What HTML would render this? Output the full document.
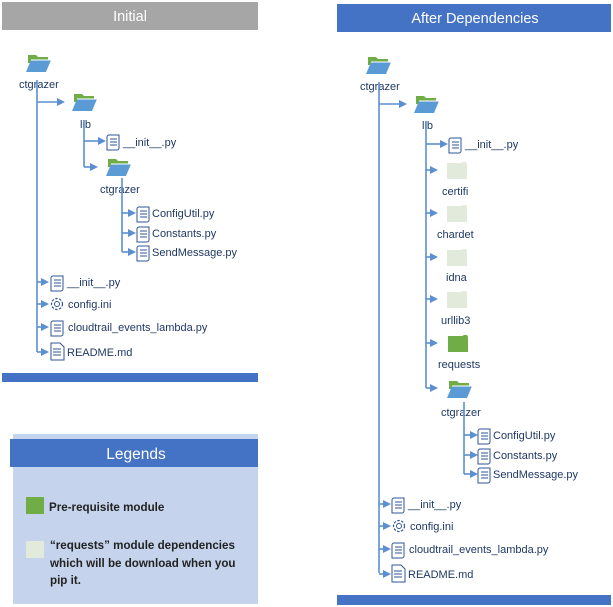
<!DOCTYPE html>
<html><head><meta charset="utf-8"><style>
html,body{margin:0;padding:0;background:#fff;width:613px;height:607px;overflow:hidden}
svg{display:block;font-family:"Liberation Sans",sans-serif}
.t{font-size:11px;fill:#1f3864}
.l{stroke:#5b8fd0;stroke-width:1.6;fill:none}
</style></head><body>
<svg width="613" height="607" viewBox="0 0 613 607">
<defs>
<g id="fo"><path d="M2 0h8l2 2h10v6H2z" fill="#70ad47"/><path d="M5 5h20l-5 12H0z" fill="#5b9bd5"/><path d="M5 5h20" stroke="#fff" stroke-width="1"/></g>
<g id="fc"><path d="M0 1h14l2-1h3l1 2v15H0z" fill="#e2ebdb"/></g>
<g id="fg"><path d="M0 1h14l2-1h3l1 2v15H0z" fill="#70ad47"/></g>
<g id="sc"><path d="M3 1h10v13a2 2 0 0 1-2 2H1V3a2 2 0 0 1 2-2z" fill="#fff" stroke="#2f5597" stroke-width="1"/><path d="M4 5h7M4 8h7M4 11h7" stroke="#2f5597" stroke-width="1"/></g>
<g id="dc"><path d="M1 0h9l4 4v13H1z" fill="#fff" stroke="#2f5597" stroke-width="1"/><path d="M3 6h8M3 9h8M3 12h8" stroke="#2f5597"/></g>
<g id="gr"><circle cx="8" cy="8" r="5.5" fill="none" stroke="#2f5597" stroke-width="1.2" stroke-dasharray="2.5 1.5"/><circle cx="8" cy="8" r="2.5" fill="none" stroke="#2f5597"/></g>
<polygon id="ah" points="0,-4 8,0 0,4" fill="#5b8fd0"/>
</defs>

<!-- Left panel -->
<rect x="2" y="2" width="256" height="28" fill="#a6a6a6"/>
<text x="130" y="21" text-anchor="middle" font-size="14.5" fill="#fff">Initial</text>
<rect x="2" y="373" width="256" height="9" fill="#4472c4"/>

<use href="#fo" x="26" y="55"/>
<text class="t" x="19" y="88">ctgrazer</text>
<path class="l" d="M37 80V352"/>
<path class="l" d="M37 102H58"/><use href="#ah" x="57" y="102"/>
<use href="#fo" x="72" y="94"/>
<text class="t" x="80" y="128">lib</text>
<path class="l" d="M84 120V167"/>
<path class="l" d="M84 141H100"/><use href="#ah" x="98" y="141"/>
<use href="#sc" x="106" y="134"/><text class="t" x="123" y="146">__init__.py</text>
<path class="l" d="M84 167H92"/><use href="#ah" x="90" y="167"/>
<use href="#fo" x="106" y="159"/>
<text class="t" x="100" y="193">ctgrazer</text>
<path class="l" d="M122 178V252"/>
<path class="l" d="M122 213H130"/><use href="#ah" x="128" y="213"/><use href="#sc" x="136" y="206"/><text class="t" x="152" y="217">ConfigUtil.py</text>
<path class="l" d="M122 233H130"/><use href="#ah" x="128" y="233"/><use href="#sc" x="136" y="226"/><text class="t" x="152" y="237">Constants.py</text>
<path class="l" d="M122 252H130"/><use href="#ah" x="128" y="252"/><use href="#sc" x="136" y="245"/><text class="t" x="152" y="256" font-size="10.3">SendMessage.py</text>
<path class="l" d="M37 282H43"/><use href="#ah" x="41" y="282"/><use href="#sc" x="50" y="275"/><text class="t" x="67" y="286">__init__.py</text>
<path class="l" d="M37 304H43"/><use href="#ah" x="41" y="304"/><use href="#gr" x="49" y="296"/><text class="t" x="68" y="308" font-size="10.3">config.ini</text>
<path class="l" d="M37 327H43"/><use href="#ah" x="41" y="327"/><use href="#sc" x="50" y="320"/><text class="t" x="68" y="331">cloudtrail_events_lambda.py</text>
<path class="l" d="M37 352H43"/><use href="#ah" x="41" y="352"/><use href="#dc" x="50" y="343"/><text class="t" x="67" y="356">README.md</text>

<!-- Legends -->
<rect x="13" y="434" width="245" height="170" fill="#c5d3ec"/>
<rect x="10" y="439" width="248" height="28" fill="#4472c4"/>
<text x="136" y="459" text-anchor="middle" font-size="15.5" fill="#fff">Legends</text>
<rect x="26" y="497" width="18" height="17" fill="#70ad47"/>
<text x="49" y="511" font-size="11.6" font-weight="bold" fill="#222">Pre-requisite module</text>
<rect x="26" y="541" width="18" height="17" fill="#e2ebdb"/>
<text font-size="11.6" font-weight="bold" fill="#222"><tspan x="50" y="549">“requests” module dependencies</tspan><tspan x="50" y="567">which will be download when you</tspan><tspan x="50" y="584">pip it.</tspan></text>

<!-- Right panel -->
<rect x="337" y="4" width="274" height="28" fill="#4472c4"/>
<text x="475" y="23" text-anchor="middle" font-size="14.5" fill="#fff">After Dependencies</text>
<rect x="337" y="595" width="274" height="10" fill="#4472c4"/>

<use href="#fo" x="366" y="57"/>
<text class="t" x="360" y="90">ctgrazer</text>
<path class="l" d="M379 82V573"/>
<path class="l" d="M379 104H400"/><use href="#ah" x="399" y="104"/>
<use href="#fo" x="414" y="96"/>
<text class="t" x="422" y="129">lib</text>
<path class="l" d="M426 121V388"/>
<path class="l" d="M426 144H442"/><use href="#ah" x="440" y="144"/><use href="#sc" x="448" y="137"/><text class="t" x="465" y="148">__init__.py</text>
<path class="l" d="M426 170H432"/><use href="#ah" x="430" y="170"/><use href="#fc" x="447" y="162"/><text class="t" x="442" y="195">certifi</text>
<path class="l" d="M426 213H432"/><use href="#ah" x="430" y="213"/><use href="#fc" x="447" y="205"/><text class="t" x="437" y="238">chardet</text>
<path class="l" d="M426 257H432"/><use href="#ah" x="430" y="257"/><use href="#fc" x="447" y="249"/><text class="t" x="446" y="281">idna</text>
<path class="l" d="M426 299H432"/><use href="#ah" x="430" y="299"/><use href="#fc" x="447" y="291"/><text class="t" x="441" y="324">urllib3</text>
<path class="l" d="M426 343H432"/><use href="#ah" x="430" y="343"/><use href="#fg" x="448" y="335"/><text class="t" x="438" y="368">requests</text>
<path class="l" d="M426 388H432"/><use href="#ah" x="430" y="388"/><use href="#fo" x="447" y="381"/>
<text class="t" x="441" y="416">ctgrazer</text>
<path class="l" d="M464 402V474"/>
<path class="l" d="M464 435H472"/><use href="#ah" x="470" y="435"/><use href="#sc" x="477" y="428"/><text class="t" x="493" y="439">ConfigUtil.py</text>
<path class="l" d="M464 455H472"/><use href="#ah" x="470" y="455"/><use href="#sc" x="477" y="448"/><text class="t" x="493" y="459">Constants.py</text>
<path class="l" d="M464 474H472"/><use href="#ah" x="470" y="474"/><use href="#sc" x="477" y="467"/><text class="t" x="493" y="478" font-size="10.3">SendMessage.py</text>
<path class="l" d="M379 504H385"/><use href="#ah" x="383" y="504"/><use href="#sc" x="391" y="497"/><text class="t" x="408" y="508">__init__.py</text>
<path class="l" d="M379 526H385"/><use href="#ah" x="383" y="526"/><use href="#gr" x="391" y="518"/><text class="t" x="410" y="530" font-size="10.3">config.ini</text>
<path class="l" d="M379 549H385"/><use href="#ah" x="383" y="549"/><use href="#sc" x="391" y="542"/><text class="t" x="409" y="553">cloudtrail_events_lambda.py</text>
<path class="l" d="M379 574H385"/><use href="#ah" x="383" y="574"/><use href="#dc" x="391" y="565"/><text class="t" x="408" y="578">README.md</text>
</svg>
</body></html>
